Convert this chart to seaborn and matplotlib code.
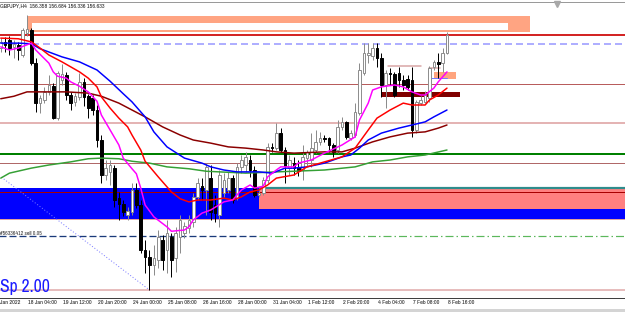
import matplotlib
matplotlib.use("Agg")
import matplotlib.pyplot as plt
import matplotlib.transforms as mtransforms
from matplotlib.patches import Rectangle
from matplotlib import font_manager as fm
import numpy as np
import pandas as pd
import seaborn as sns

# ---------------- data (GBPJPY H4) ----------------
bar_open = [156.43,156.53,156.56,156.45,156.48,156.32,156.67,156.72,156.19,155.55,
            155.60,155.73,155.82,155.31,155.92,156.00,155.68,155.57,155.65,155.89,
            155.66,155.63,155.44,154.96,154.40,154.45,154.51,154.03,153.94,153.76,
            153.81,154.16,153.92,153.20,153.09,152.96,153.04,153.36,153.20,153.41,
            153.07,153.41,153.47,153.55,153.65,154.05,154.22,154.16,154.35,153.92,
            153.76,154.11,154.16,154.35,154.03,154.53,154.56,154.64,154.48,154.08,
            154.11,154.32,154.85,154.83,155.07,154.80,154.51,154.59,154.53,154.48,
            154.67,154.64,154.80,154.93,154.99,154.99,154.88,154.80,155.17,155.25,
            154.99,155.04,155.39,156.03,156.32,156.30,156.43,156.27,155.84,156.03,
            156.02,156.03,155.92,155.94,155.92,155.12,155.55,155.57,155.63,156.13,
            156.21,156.19,156.358]
bar_high = [156.59,156.61,156.62,156.56,156.53,156.75,156.96,156.75,156.27,155.68,
            155.81,156.00,155.87,156.06,156.18,156.05,155.73,155.71,156.03,155.95,
            155.70,155.68,155.52,155.04,154.64,154.64,154.56,154.13,154.00,153.89,
            154.27,154.27,154.00,153.36,153.20,153.28,153.52,153.44,153.68,153.47,
            153.57,153.76,153.65,153.76,154.11,154.35,154.35,154.59,154.56,154.08,
            154.48,154.43,154.45,154.40,154.59,154.72,154.77,154.72,154.54,154.19,
            154.37,154.91,154.91,155.23,155.15,154.85,154.72,154.69,154.64,154.88,
            154.80,155.07,155.12,155.09,155.04,155.01,154.91,155.28,155.33,155.26,
            155.12,155.55,156.19,156.51,156.51,156.51,156.51,156.35,156.08,156.11,
            156.05,156.13,156.00,156.00,156.13,155.60,155.66,155.74,156.14,156.24,
            156.35,156.43,156.684]
bar_low = [156.37,156.37,156.32,156.27,156.24,156.29,156.62,156.16,155.41,155.39,
           155.55,155.68,155.30,155.28,155.84,155.60,155.44,155.50,155.60,155.50,
           155.31,155.36,154.85,154.27,154.32,154.24,153.89,153.68,153.74,153.68,
           153.76,153.87,153.15,152.83,152.56,152.80,152.91,152.88,152.83,152.77,
           152.85,153.15,153.39,153.47,153.57,154.00,154.00,153.76,153.68,153.65,
           153.57,154.05,154.11,153.95,154.00,154.43,154.45,154.37,154.05,154.05,
           154.08,154.27,154.77,154.80,154.77,154.27,154.40,154.40,154.38,154.32,
           154.54,154.53,154.75,154.88,154.93,154.77,154.69,154.75,155.12,154.98,
           154.96,155.01,155.36,156.00,156.19,156.24,156.13,155.65,155.47,155.84,
           155.65,155.81,155.76,155.76,155.01,155.07,155.52,155.55,155.57,156.08,
           155.95,156.05,156.336]
bar_close = [156.53,156.48,156.43,156.50,156.40,156.72,156.74,156.19,155.55,155.63,
             155.73,155.84,155.31,156.03,156.02,155.68,155.55,155.66,155.89,155.65,
             155.47,155.44,154.96,154.40,154.51,154.56,154.00,153.94,153.81,153.82,
             154.16,153.92,153.20,153.09,152.96,153.07,153.41,153.04,153.47,153.04,
             153.47,153.68,153.58,153.68,154.05,154.27,154.16,154.53,153.81,153.79,
             154.40,154.32,154.35,154.00,154.53,154.64,154.69,154.48,154.08,154.11,
             154.32,154.85,154.83,155.07,154.80,154.54,154.64,154.51,154.46,154.69,
             154.77,154.83,154.93,154.99,154.98,154.88,154.77,155.17,155.25,155.01,
             155.07,155.41,156.08,156.35,156.35,156.43,156.27,155.84,156.03,156.02,
             155.68,155.92,155.84,155.81,155.12,155.57,155.60,155.68,156.11,156.21,
             156.18,156.35,156.633]

# moving averages (bar index, value)
ma_fast_bar = [0,2,4,7,8,11,12,13,15,16,18,20,22,23,25,27,28,30,31,32,33,35,38,39,42,43,44,46,48,51,
               53,55,57,58,60,61,63,64,67,68,71,74,78,81,82,84,85,87,90,92,94,96,97,99,100,102]
ma_fast_val = [156.45,156.40,156.43,156.51,156.40,156.19,156.05,155.98,155.95,155.89,
               155.82,155.73,155.58,155.36,155.12,154.88,154.67,154.50,154.42,154.19,
               153.92,153.73,153.57,153.50,153.52,153.57,153.68,153.79,153.84,153.97,
               154.00,154.16,154.24,154.19,154.22,154.37,154.48,154.53,154.53,154.59,
               154.64,154.75,154.88,155.01,155.28,155.55,155.76,155.81,155.84,155.81,
               155.73,155.68,155.68,155.79,155.89,156.05]
ma_mid_bar = [0,4,7,9,11,14,16,18,20,22,23,25,27,29,30,32,33,36,39,41,43,45,48,51,53,55,57,59,61,63,
              67,70,74,78,81,84,86,89,92,94,97,98,100,102]
ma_mid_val = [156.59,156.58,156.53,156.43,156.32,156.21,156.13,156.05,155.95,155.81,
              155.65,155.47,155.31,155.17,155.04,154.80,154.62,154.37,154.13,154.02,
              153.97,154.00,154.00,154.03,154.00,154.05,154.13,154.16,154.24,154.35,
              154.40,154.53,154.61,154.69,154.83,155.12,155.31,155.44,155.55,155.52,
              155.52,155.60,155.68,155.79]
ma_slow_bar = [0,4,7,9,14,18,22,25,28,30,33,35,38,42,46,48,51,54,59,62,65,67,70,74,78,80,82,84,87,91,
               94,97,99,102]
ma_slow_val = [156.51,156.51,156.50,156.42,156.29,156.21,156.08,155.90,155.70,155.57,
               155.33,155.09,154.85,154.67,154.59,154.53,154.48,154.45,154.45,154.43,
               154.51,154.51,154.53,154.59,154.69,154.72,154.83,154.96,155.07,155.15,
               155.20,155.25,155.33,155.44]
ma_long_bar = [0,3,6,15,20,23,27,30,33,37,41,44,48,52,56,60,63,67,74,78,81,85,89,93,97,100,102]
ma_long_val = [155.62,155.66,155.73,155.73,155.71,155.66,155.55,155.44,155.33,155.17,
               155.04,154.96,154.91,154.85,154.83,154.80,154.77,154.75,154.77,154.77,
               154.83,154.93,155.01,155.07,155.09,155.15,155.20]
ma_trend_bar = [0,2,7,11,16,20,23,27,30,34,38,43,47,50,56,63,67,74,81,85,89,93,97,102]
ma_trend_val = [154.35,154.43,154.51,154.56,154.61,154.66,154.67,154.66,154.62,154.59,
                154.53,154.50,154.46,154.45,154.43,154.45,154.46,154.48,154.53,154.61,
                154.64,154.69,154.72,154.80]

tick_bars = [-2, 6, 14, 22, 30, 38, 46, 54, 62, 70, 78, 86, 94, 102]
tick_labels = ["Jan 2022", "18 Jan 04:00", "19 Jan 12:00", "20 Jan 20:00", "24 Jan 00:00",
               "25 Jan 08:00", "26 Jan 16:00", "28 Jan 00:00", "31 Jan 04:00", "1 Feb 12:00",
               "2 Feb 20:00", "4 Feb 04:00", "7 Feb 08:00", "8 Feb 16:00"]
header_text = "GBPJPY,H4  156.358 156.684 156.336 156.633"
order_text = "#56336412 sell 0.05"
spread_text = "Sp 2.00"

# price levels / zones
level_resist = 156.64
level_dash = 156.50
level_a = 155.86
level_b = 155.23
level_green = 154.74
level_c = 154.59
level_zone_top = 154.20
level_zone_mid = 154.13
level_zone_bot = 153.70
level_order = 153.42
level_bottom = 152.56
zone_blue = (153.70, 154.19)
zone_salmon = (153.86, 154.17)
zone_top_outer = (156.69, 156.95)
zone_top_inner = (156.72, 156.83)
box_maroon = (155.65, 155.73)
box_small = (155.94, 156.05)

# ---------------- style ----------------
sns.set_style("white")
plt.rcParams['font.family'] = ['Liberation Sans', 'DejaVu Sans']
plt.rcParams['lines.scale_dashes'] = False
P = 0.72  # points per pixel at 100 dpi


def pick_narrow_font():
    """Find an installed narrow/condensed regular sans face."""
    best, best_rank = None, 99
    for f in fm.fontManager.ttflist:
        st = str(f.stretch).lower()
        name = f.name
        is_narrow = ('narrow' in name.lower()) or ('condensed' in name.lower()) or ('condensed' in st)
        if not is_narrow or f.style != 'normal':
            continue
        try:
            w = int(f.weight)
        except Exception:
            w = 400 if str(f.weight).lower() in ('normal', 'regular', 'book') else 700
        if w != 400:
            continue
        if 'narrow' in name.lower():
            rank = 0
        elif 'extra' in st or 'ultra' in st or 'extra' in name.lower():
            rank = 4
        elif 'semi' in st or 'semi' in name.lower():
            rank = 2
        else:
            rank = 1
        if rank < best_rank:
            best, best_rank = f.fname, rank
    if best is None:
        return fm.FontProperties(family='Liberation Sans')
    return fm.FontProperties(fname=best)


narrow_fp = pick_narrow_font()

fig = plt.figure(figsize=(6.25, 3.12), dpi=100, facecolor='white')
ax = fig.add_axes([0, 14/312, 1, 296/312])
ax.set_facecolor('white')
ax.set_xlim(-0.17, 142.69)
ax.set_ylim(152.432, 157.168)

R = 160
ax.add_patch(Rectangle((-5, zone_blue[0]), R, zone_blue[1]-zone_blue[0], color='#0000ff', lw=0, zorder=1))
ax.add_patch(Rectangle((59, zone_salmon[0]), R, zone_salmon[1]-zone_salmon[0], color='#ff8080', lw=0, zorder=1.1))
ax.plot([59, R], [level_zone_top]*2, color='#2f8c8c', lw=2.2*P, zorder=1.2, solid_capstyle='butt')
ax.plot([-5, R], [level_zone_mid]*2, color='#a80000', lw=1*P, zorder=1.3)
ax.plot([-5, R], [level_zone_bot]*2, color='#e0a0a0', lw=1*P, zorder=1.3)
ax.add_patch(Rectangle((6, zone_top_outer[0]), 115, zone_top_outer[1]-zone_top_outer[0], color='#ffa482', lw=0, zorder=1))
ax.add_patch(Rectangle((7.2, zone_top_inner[0]), 108.8, zone_top_inner[1]-zone_top_inner[0], color='white', lw=0, zorder=1.05))
ax.add_patch(Rectangle((87, box_maroon[0]), 18, box_maroon[1]-box_maroon[0], color='#800000', lw=0, zorder=1.4))
ax.add_patch(Rectangle((99, box_small[0]), 5, box_small[1]-box_small[0], color='#ffa47e', lw=0, zorder=1.4))
ax.plot([98, 102], [155.95]*2, color='#7878ff', lw=1*P, zorder=1.5)
ax.plot([88.5, 96], [156.14]*2, color='#d8a4a4', lw=1.5*P, zorder=1.5)
ax.plot([98, 100.5], [156.11]*2, color='#d8a4a4', lw=1.5*P, zorder=1.5)

ax.plot([-5, R], [level_resist]*2, color='#cc0000', lw=1.7*P, zorder=1.6)
ax.plot([-5, R], [level_dash]*2, color='#9c9cff', lw=1.6*P, zorder=1.6, linestyle=(0, (7*P, 4*P)))
ax.plot([-5, R], [level_a]*2, color='#b85c5c', lw=1*P, zorder=1.6)
ax.plot([-5, R], [level_b]*2, color='#e4b4b4', lw=2*P, zorder=1.6)
ax.plot([-5, R], [level_green]*2, color='#008000', lw=2*P, zorder=1.6)
ax.plot([-5, R], [level_c]*2, color='#b06868', lw=1*P, zorder=1.6)
ax.plot([-5, R], [level_bottom]*2, color='#e0a8a8', lw=1.5*P, zorder=1.6)
ax.plot([-1, 59], [level_order]*2, color='#1a3a7a', lw=1.3*P, zorder=1.6, linestyle=(0, (7*P, 3*P)))
ax.plot([59, R], [level_order]*2, color='#5cb85c', lw=1.2*P, zorder=1.6, linestyle=(0, (8*P, 3*P, 1.5*P, 3*P)))
ax.plot([-0.5, 34], [154.40, 152.56], color='#7b7bff', lw=1*P, zorder=1.7, linestyle=(0, (1*P, 2*P)))
ax.plot([127.1], [157.14], marker='v', ms=4, color='#a8a8a8', zorder=5, clip_on=False)

# candles
o = np.array(bar_open); h = np.array(bar_high); l = np.array(bar_low); c = np.array(bar_close)
x = np.arange(len(o))
bull = c >= o
wick_col = np.where(bull, '#8c8c8c', '#000000')
ax.vlines(x, l, h, colors=wick_col, lw=1*P, zorder=2.9)
bottoms = np.minimum(o, c)
heights = np.maximum(np.abs(c - o), 0.012)
ax.bar(x[bull], heights[bull], bottom=bottoms[bull], width=0.62, facecolor='white',
       edgecolor='#8c8c8c', linewidth=0.7, zorder=3)
ax.bar(x[~bull], heights[~bull], bottom=bottoms[~bull], width=0.62, facecolor='black',
       edgecolor='black', linewidth=0.7, zorder=3)

# moving averages via seaborn
for bars, vals, col in [(ma_trend_bar, ma_trend_val, '#35a035'),
                        (ma_long_bar, ma_long_val, '#8b0000'),
                        (ma_slow_bar, ma_slow_val, '#0000ff'),
                        (ma_mid_bar, ma_mid_val, '#ff0000'),
                        (ma_fast_bar, ma_fast_val, '#ff00ff')]:
    df = pd.DataFrame({'bar': bars, 'price': vals})
    sns.lineplot(data=df, x='bar', y='price', color=col, lw=1.5*P, ax=ax,
                 estimator=None, sort=False, zorder=4, legend=False)
ax.set_xlabel('')
ax.set_ylabel('')

# axes styling
ax.set_yticks([])
ax.set_xticks([t for t in tick_bars if t >= 0])
ax.set_xticklabels([])
ax.tick_params(axis='x', direction='out', length=4, width=0.7, color='#404040', pad=0)
for side in ['left', 'right']:
    ax.spines[side].set_visible(False)
ax.spines['top'].set_color('#9a9a9a')
ax.spines['top'].set_linewidth(1*P)
ax.spines['bottom'].set_color('#404040')
ax.spines['bottom'].set_linewidth(1*P)

renderer = fig.canvas.get_renderer()


def fit_width(t, target_px):
    bb = t.get_window_extent(renderer)
    if bb.width > 0:
        t.set_fontsize(t.get_fontsize() * target_px / bb.width)


off = mtransforms.ScaledTranslation(1.5/100, -2.5/100, fig.dpi_scale_trans)
label_objs = []
for b, lab in zip(tick_bars, tick_labels):
    t = ax.text(b, 0, lab, transform=ax.get_xaxis_transform() + off, ha='left', va='top',
                fontproperties=narrow_fp, fontsize=5, color='#202020', clip_on=False)
    label_objs.append(t)
fit_width(label_objs[1], 29)
for t in label_objs:
    t.set_fontsize(label_objs[1].get_fontsize())
label_objs[0].set_transform(fig.transFigure)
label_objs[0].set_position((0.5/625, 1 - 300.5/312))

th = fig.text(0.5/625, 1 - 5.5/312, header_text, fontproperties=narrow_fp, fontsize=5,
              color='#202020', ha='left', va='center')
fit_width(th, 107)
to = fig.text(0.5/625, 1 - 235/312, order_text, fontproperties=narrow_fp, fontsize=4,
              color='#303030', ha='left', va='baseline')
fit_width(to, 42)
ts = fig.text(0.5/625, 1 - 292/312, spread_text, fontproperties=narrow_fp, fontsize=12,
              color='#1a1aff', ha='left', va='baseline')
fit_width(ts, 50)
if ts.get_fontsize() > 16:
    ts.set_fontsize(16)

fig.patches.append(Rectangle((0, 0), 1, 3/312, transform=fig.transFigure, color='#d4d4d4', lw=0))

fig.savefig('out.png', dpi=100, facecolor='white')
